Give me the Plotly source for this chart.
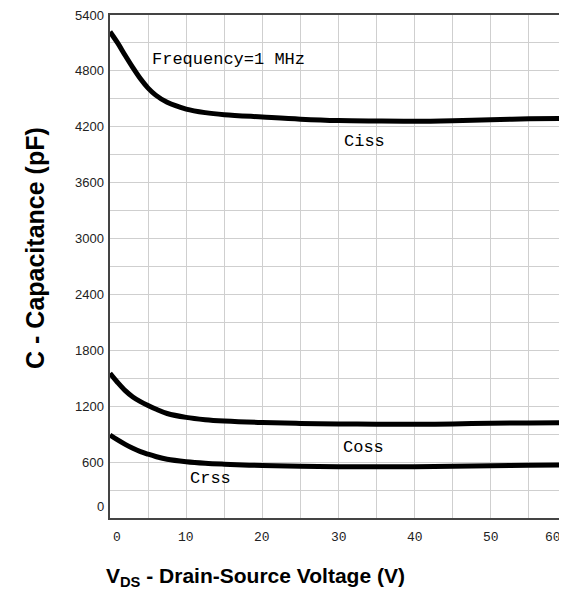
import plotly.graph_objects as go

# ---- data ----
vds = [0, 1, 2, 3, 4, 5, 6, 7.5, 10, 12.5, 15, 20, 25, 30, 35, 40, 45, 50, 55, 60]
ciss = [5220, 5100, 4965, 4835, 4715, 4615, 4540, 4462, 4390, 4352, 4330, 4305, 4282,
        4267, 4262, 4260, 4266, 4276, 4285, 4290]
coss = [1553, 1455, 1368, 1300, 1250, 1208, 1170, 1122, 1080, 1056, 1042, 1025, 1015,
        1010, 1007, 1006, 1010, 1017, 1021, 1024]
crss = [891, 838, 790, 748, 713, 685, 660, 630, 604, 588, 578, 563, 555,
        551, 550, 551, 555, 560, 565, 569]

x_ticks = [0, 10, 20, 30, 40, 50, 60]
x_tick_labels = ["0", "10", "20", "30", "40", "50", "60"]
y_ticks = [0, 600, 1200, 1800, 2400, 3000, 3600, 4200, 4800, 5400]
y_tick_labels = ["0", "600", "1200", "1800", "2400", "3000", "3600", "4200", "4800", "5400"]

curve_labels = ["Frequency=1 MHz", "Ciss", "Coss", "Crss"]
curve_label_x = [5.2, 30.4, 30.3, 10.2]
curve_label_y = [4917, 4037, 752, 419]

fig = go.Figure()
for name, vals in [("Ciss", ciss), ("Coss", coss), ("Crss", crss)]:
    fig.add_trace(go.Scatter(x=vds, y=vals, mode="lines", name=name,
                             line=dict(color="black", width=5, shape="spline", smoothing=1.0),
                             showlegend=False, hoverinfo="skip"))

annotations = []
mono = dict(family="Liberation Mono, Courier New, monospace", size=17, color="black")
for t, x, y in zip(curve_labels, curve_label_x, curve_label_y):
    annotations.append(dict(x=x, y=y, xref="x", yref="y", text=t, showarrow=False,
                            xanchor="left", yanchor="middle", font=mono))

tickfont_x = dict(family="Liberation Mono, Courier New, monospace", size=13, color="#222")
for v, t in zip(x_ticks, x_tick_labels):
    shift = 7 if v == 0 else (-14 if v == 60 else 0)
    annotations.append(dict(x=v, y=0, xref="x", yref="paper", text=t, showarrow=False,
                            xanchor="center", yanchor="top", yshift=-10, xshift=shift,
                            font=tickfont_x))

tickfont_y = dict(family="Liberation Sans Narrow, Liberation Sans, Arial, sans-serif",
                  size=13, color="#222")
for v, t in zip(y_ticks, y_tick_labels):
    annotations.append(dict(x=0, y=v, xref="paper", yref="y", text=t, showarrow=False,
                            xanchor="right", yanchor="middle", xshift=-4,
                            yshift=12 if v == 0 else 0, font=tickfont_y))

title_font = dict(family="Liberation Sans, Arial, sans-serif", size=21, color="black")
annotations.append(dict(x=0.319, y=-0.117, xref="paper", yref="paper",
                        text="<b>V<sub>DS</sub> - Drain-Source Voltage (V)</b>",
                        showarrow=False, xanchor="center", yanchor="middle", font=title_font))
annotations.append(dict(x=-0.164, y=0.537, xref="paper", yref="paper",
                        text="<b>C - Capacitance (pF)</b>", textangle=-90,
                        showarrow=False, xanchor="center", yanchor="middle",
                        font=dict(family="Liberation Sans, Arial, sans-serif", size=25,
                                  color="black")))

# the page body adds an 8px margin, so the figure is shrunk and shifted accordingly
fig.update_layout(
    width=559, height=595,
    margin=dict(l=102, r=0, t=7, b=85),
    paper_bgcolor="white", plot_bgcolor="white",
    annotations=annotations,
    xaxis=dict(range=[0, 60], dtick=5, tick0=0, showticklabels=False, ticks="",
               showgrid=True, gridcolor="#cfcfcf", gridwidth=1, zeroline=False,
               showline=True, linecolor="#444", linewidth=1.5, mirror=True),
    yaxis=dict(range=[0, 5400], dtick=300, tick0=0, showticklabels=False, ticks="",
               showgrid=True, gridcolor="#cfcfcf", gridwidth=1, zeroline=False,
               showline=True, linecolor="#444", linewidth=1.5, mirror=False),
)

fig.write_html("out.html")
